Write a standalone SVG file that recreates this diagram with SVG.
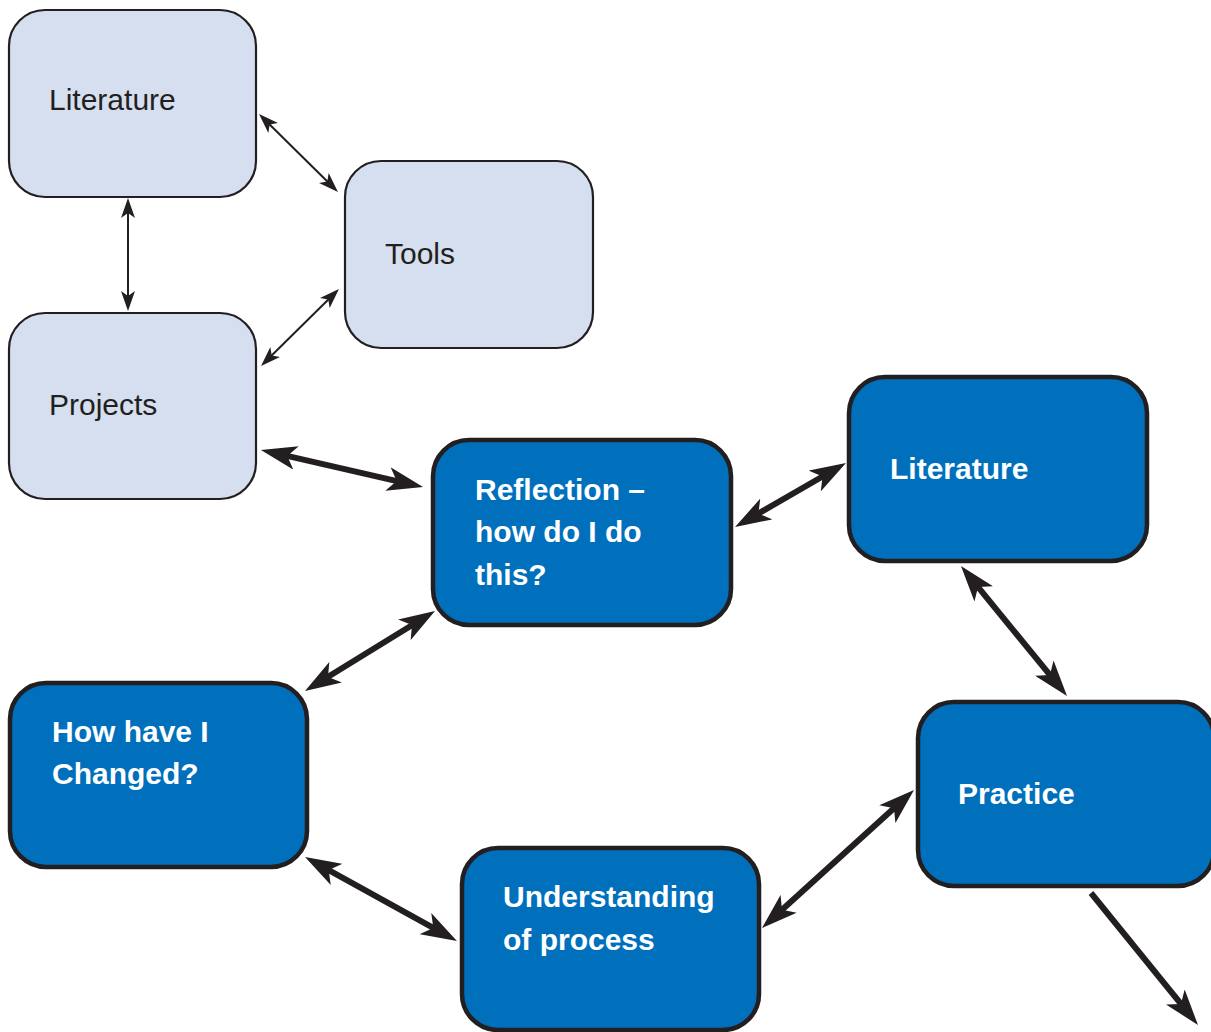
<svg xmlns="http://www.w3.org/2000/svg" width="1211" height="1032" viewBox="0 0 1211 1032">
<style>
.light rect{fill:#d5dff0;stroke:#231f20;stroke-width:2.2}
.dark rect{fill:#0070bc;stroke:#231f20;stroke-width:4.5}
.light text{font-family:"Liberation Sans",Arial,sans-serif;font-size:30px;fill:#231f20}
.dark text{font-family:"Liberation Sans",Arial,sans-serif;font-size:30px;font-weight:bold;fill:#ffffff}
.thin{stroke:#231f20;stroke-width:2;fill:none;marker-start:url(#ht);marker-end:url(#ht)}
.thick{stroke:#231f20;stroke-width:6;fill:none;marker-start:url(#hk);marker-end:url(#hk)}
</style>
<defs>
<marker id="ht" markerUnits="userSpaceOnUse" viewBox="0 0 20 14" markerWidth="20" markerHeight="14" refX="14" refY="7" orient="auto-start-reverse">
<path d="M0,0 L20,7 L0,14 L5,7 z" fill="#231f20"/>
</marker>
<marker id="hk" markerUnits="userSpaceOnUse" viewBox="0 0 36 24" markerWidth="36" markerHeight="24" refX="26" refY="12" orient="auto-start-reverse">
<path d="M0,0 L36,12 L0,24 L9,12 z" fill="#231f20"/>
</marker>
</defs>
<g id="connectors">
<line class="thin" x1="263.3" y1="118.2" x2="333.7" y2="187.8"/>
<line class="thin" x1="128" y1="204" x2="128" y2="305"/>
<line class="thin" x1="265.3" y1="361.8" x2="334.7" y2="293.2"/>
<line class="thick" x1="270.7" y1="452.2" x2="413.3" y2="484.8"/>
<line class="thick" x1="743.7" y1="522" x2="837.3" y2="468"/>
<line class="thick" x1="967.3" y1="573.8" x2="1060.7" y2="688.2"/>
<line class="thick" x1="426.5" y1="616.2" x2="313.5" y2="685.8"/>
<line class="thick" x1="313.8" y1="861.8" x2="448.2" y2="936.2"/>
<line class="thick" x1="769.4" y1="921.3" x2="906.6" y2="796.7"/>
<line class="thick" style="marker-start:none" x1="1091" y1="893" x2="1191.7" y2="1017.2"/>
</g>
<g id="literature-top" class="light">
<rect x="9" y="10" width="247" height="187" rx="36"/>
<text x="49" y="110">Literature</text>
</g>
<g id="tools" class="light">
<rect x="345" y="161" width="248" height="187" rx="36"/>
<text x="385" y="264">Tools</text>
</g>
<g id="projects" class="light">
<rect x="9" y="313" width="247" height="186" rx="36"/>
<text x="49" y="415">Projects</text>
</g>
<g id="reflection" class="dark">
<rect x="433" y="440" width="298" height="185" rx="36"/>
<text x="475" y="500">Reflection –</text>
<text x="475" y="542">how do I do</text>
<text x="475" y="585">this?</text>
</g>
<g id="literature-right" class="dark">
<rect x="849" y="377" width="298" height="184" rx="36"/>
<text x="890" y="479">Literature</text>
</g>
<g id="how-changed" class="dark">
<rect x="10" y="683" width="297" height="184" rx="36"/>
<text x="52" y="742">How have I</text>
<text x="52" y="784">Changed?</text>
</g>
<g id="understanding" class="dark">
<rect x="462" y="848" width="297" height="182" rx="36"/>
<text x="503" y="907">Understanding</text>
<text x="503" y="950">of process</text>
</g>
<g id="practice" class="dark">
<rect x="918" y="702" width="296" height="184" rx="36"/>
<text x="958" y="804">Practice</text>
</g>
</svg>
